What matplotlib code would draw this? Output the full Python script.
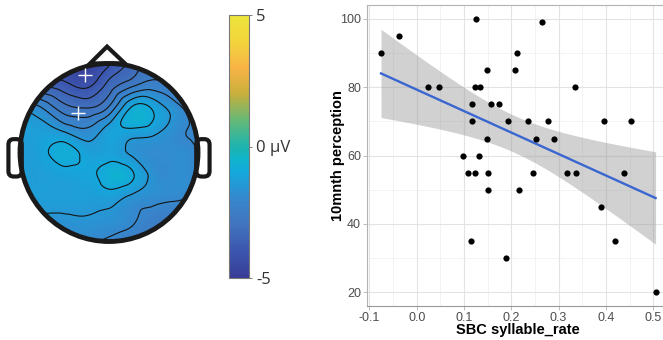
import matplotlib
matplotlib.use("Agg")
import matplotlib.pyplot as plt
import matplotlib.tri as mtri
import numpy as np
from matplotlib.colors import LinearSegmentedColormap
from matplotlib.patches import Circle, Polygon, FancyBboxPatch
from matplotlib.ticker import MultipleLocator

# ---- topography: values (uV) on a 9x9 grid over the head, rows top -> bottom
grid_pos = np.linspace(-1, 1, 9)
topo = np.array([
    [-4.0, -4.5, -4.8, -4.7, -4.1, -3.3, -2.8, -2.5, -2.3],
    [-3.0, -3.5, -3.8, -4.1, -3.3, -2.6, -2.25, -2.6, -2.4],
    [-1.4, -2.0, -2.8, -3.0, -2.4, -0.95, -1.1, -1.8, -2.3],
    [-1.3, -1.3, -1.6, -1.9, -1.25, -1.1, -1.3, -1.8, -2.1],
    [-1.3, -1.15, -0.8, -1.2, -1.2, -1.6, -1.85, -1.8, -2.0],
    [-1.3, -1.3, -1.2, -1.1, -0.75, -0.9, -1.7, -1.8, -1.95],
    [-1.3, -1.3, -1.3, -1.3, -1.25, -1.6, -1.8, -1.9, -2.1],
    [-1.55, -1.6, -1.6, -1.55, -1.65, -1.9, -2.3, -2.5, -2.7],
    [-1.7, -1.8, -1.85, -1.95, -2.1, -2.45, -2.7, -2.85, -3.0],
])
contour_levels = [-4.0, -3.5, -3.0, -2.5, -2.0, -1.5, -1.0]
sig_x = [-0.27, -0.348]
sig_y = [0.871, 0.444]

# ---- behaviour scatter
sbc = [-0.0755, -0.037, 0.0246, 0.048, 0.126, 0.265, 0.213, 0.149, 0.208, 0.123,
       0.134, 0.335, 0.117, 0.158, 0.175, 0.117, 0.194, 0.236, 0.277, 0.395,
       0.454, 0.149, 0.252, 0.290, 0.097, 0.132, 0.109, 0.123, 0.151, 0.245,
       0.318, 0.337, 0.439, 0.151, 0.217, 0.390, 0.115, 0.419, 0.188, 0.505]
perc = [90, 95, 80, 80, 100, 99, 90, 85, 85, 80,
        80, 80, 75, 75, 75, 70, 70, 70, 70, 70,
        70, 65, 65, 65, 60, 60, 55, 55, 55, 55,
        55, 55, 55, 50, 50, 45, 35, 35, 30, 20]

cmap = LinearSegmentedColormap.from_list("parulaish", [
    (0.0, (55/255, 60/255, 150/255)),
    (0.1, (60/255, 85/255, 175/255)),
    (0.2, (65/255, 115/255, 190/255)),
    (0.3, (55/255, 135/255, 205/255)),
    (0.4, (20/255, 168/255, 220/255)),
    (0.45, (15/255, 180/255, 205/255)),
    (0.5, (30/255, 180/255, 175/255)),
    (0.6, (100/255, 185/255, 120/255)),
    (0.7, (200/255, 175/255, 60/255)),
    (0.8, (248/255, 180/255, 70/255)),
    (0.9, (242/255, 212/255, 60/255)),
    (1.0, (236/255, 229/255, 58/255)),
])

W, H = 663, 340
fig = plt.figure(figsize=(W / 100, H / 100), dpi=100)

# ---- topomap axes (89 px per unit, head centre at 109,152.5 px)
sc = 89.0
ax = fig.add_axes([0, 0, 218 / W, 1])
ax.set_xlim(-109 / sc, 109 / sc)
ax.set_ylim(-(H - 152.5) / sc, 152.5 / sc)
ax.axis("off")

gx, gy = np.meshgrid(grid_pos, grid_pos[::-1])
tri = mtri.Triangulation(gx.ravel(), gy.ravel())
refiner = mtri.UniformTriRefiner(tri)
tri_f, z_f = refiner.refine_field(topo.ravel(), subdiv=4)

clip = Circle((0, 0), 1.0, transform=ax.transData)
tp = ax.tripcolor(tri_f, z_f, shading="gouraud", cmap=cmap, vmin=-5, vmax=5)
tp.set_clip_path(clip)
cs = ax.tricontour(tri_f, z_f, levels=contour_levels, colors="#151515",
                   linewidths=0.8, linestyles="solid")
cs.set_clip_path(clip)

# ears and nose
for x0 in (-1.13, 0.98):
    ax.add_patch(FancyBboxPatch((x0, -0.27), 0.15, 0.42,
                                boxstyle="round,pad=0,rounding_size=0.06",
                                fc="white", ec="#1a1a1a", lw=3, zorder=3))
ax.add_patch(Polygon([(-0.213, 1.0), (-0.022, 1.19), (0.18, 1.0)], closed=True,
                     fc="white", ec="#1a1a1a", lw=3, joinstyle="miter", zorder=3))
ax.add_patch(Circle((0, 0), 1.0, fc="none", ec="#1a1a1a", lw=3.5, zorder=4))
ax.plot(sig_x, sig_y, "+", color="white", ms=10, mew=1.0, zorder=5)

# ---- colorbar
cax = fig.add_axes([229 / W, 62 / H, 20 / W, 263 / H])
sm = plt.cm.ScalarMappable(cmap=cmap, norm=plt.Normalize(-5, 5))
cb = fig.colorbar(sm, cax=cax, ticks=[-5, 0, 5])
cb.ax.set_yticklabels(["-5", "0 \u00b5V", "5"], fontsize=12, family="Open Sans", color="#333333")
cb.ax.tick_params(length=2, width=0.6, color="#666666", pad=3)
cb.outline.set_edgecolor("#777777")
cb.outline.set_linewidth(0.8)

# ---- scatter panel
sx = np.array(sbc)
sy = np.array(perc)
b, a = np.polyfit(sx, sy, 1)
n = len(sx)
xf = np.linspace(sx.min(), sx.max(), 80)
yf = a + b * xf
resid = sy - (a + b * sx)
s_err = np.sqrt(np.sum(resid ** 2) / (n - 2))
se = s_err * np.sqrt(1 / n + (xf - sx.mean()) ** 2 / np.sum((sx - sx.mean()) ** 2))
tval = 2.024

l = 367.3 / W
bt = (H - 306) / H
ax2 = fig.add_axes([l, bt, (669.3 - 367.3) / W, (306 - 5.33) / H])
ax2.set_xlim(-0.1045, 0.534)
ax2.set_ylim(16, 104)
ax2.xaxis.set_major_locator(MultipleLocator(0.1))
ax2.xaxis.set_minor_locator(MultipleLocator(0.05))
ax2.yaxis.set_major_locator(MultipleLocator(20))
ax2.yaxis.set_minor_locator(MultipleLocator(10))
ax2.grid(which="major", color="#E3E3E3", lw=0.8)
ax2.grid(which="minor", color="#EEEEEE", lw=0.5)
ax2.set_axisbelow(True)
ax2.set_xticks(np.arange(-0.1, 0.51, 0.1))
ax2.set_xticklabels(["-0.1", "0.0", "0.1", "0.2", "0.3", "0.4", "0.5"])
ax2.tick_params(which="major", length=3, width=0.6, color="#B3B3B3", labelsize=9,
                labelcolor="#4D4D4D", pad=1.5)
ax2.tick_params(which="minor", length=0)
for lab in ax2.get_xticklabels() + ax2.get_yticklabels():
    lab.set_family("Liberation Sans")
for sp in ax2.spines.values():
    sp.set_color("#B3B3B3")
    sp.set_linewidth(0.8)
ax2.spines["bottom"].set_color("#999999")

ax2.fill_between(xf, yf - tval * se, yf + tval * se, color="#999999", alpha=0.45, lw=0)
ax2.plot(xf, yf, color="#3A66D0", lw=1.7)
ax2.scatter(sx, sy, s=20, color="black", zorder=3, linewidths=0)

fig.text(518 / W, 10 / H, "SBC syllable_rate", ha="center", va="center",
         fontsize=10.5, fontweight="bold", family="Liberation Sans")
fig.text(338 / W, 1 - 155.7 / H, "10mnth perception", ha="center", va="center",
         rotation=90, fontsize=10.5, fontweight="bold", family="Liberation Sans")

fig.savefig("out.png", dpi=100)
